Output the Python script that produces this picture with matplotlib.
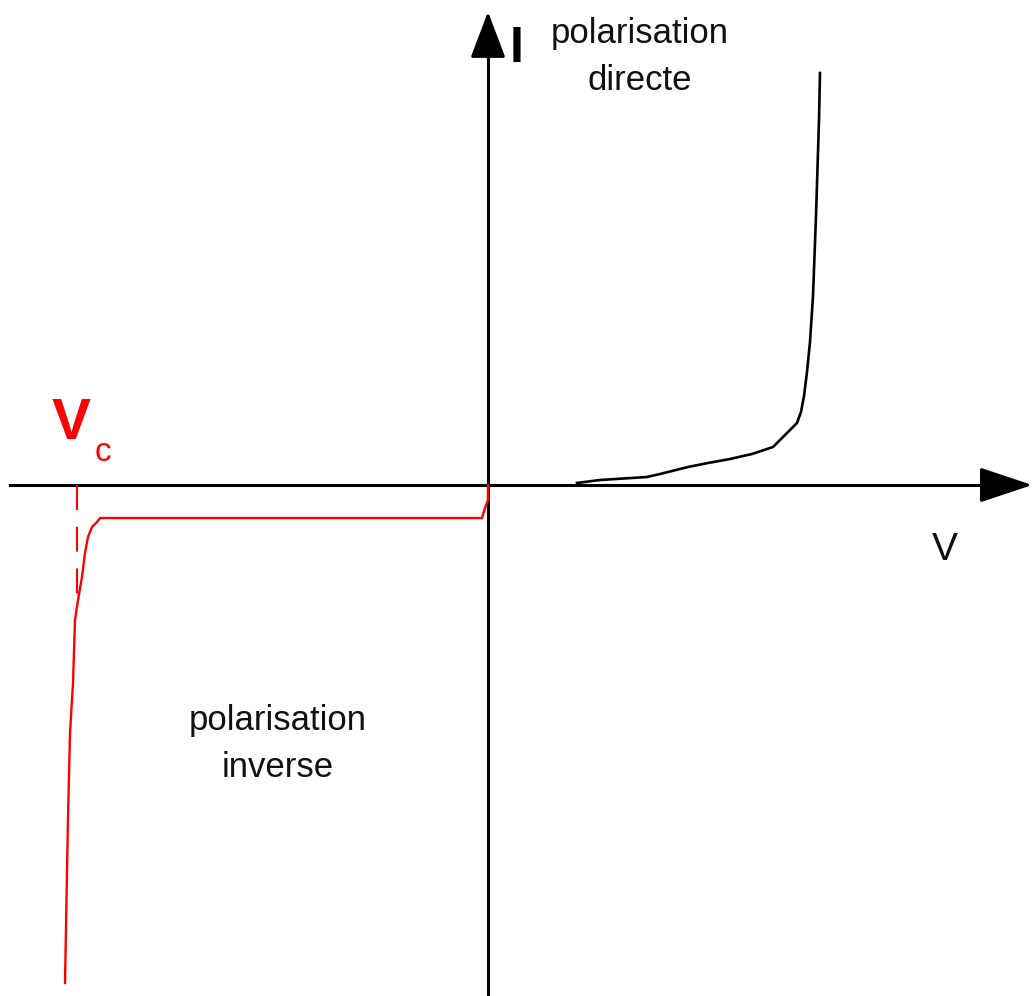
import matplotlib
matplotlib.use('Agg')
import matplotlib.pyplot as plt

plt.rcParams['font.family'] = ['Liberation Sans', 'DejaVu Sans']

# forward bias (black) - V, I in picture units, origin at the axes crossing
fwd_v = [89, 112, 159, 172, 200, 220, 242, 264, 285, 294, 309, 313, 316, 319, 322, 325, 328, 331, 332]
fwd_i = [2, 5, 8, 11, 18, 22, 26, 31, 38, 47, 62, 73, 89, 113, 143, 189, 269, 365, 412]

# reverse bias (red)
rev_v = [0, 0, -3, -6, -388, -391, -396, -400, -403, -406, -410, -413, -415, -418, -420, -423]
rev_i = [0, -15, -23, -33, -33, -37, -42, -52, -68, -92, -115, -135, -198, -248, -332, -498]

# breakdown voltage marker
vc = -411
vc_dash_end = -115

fig = plt.figure(figsize=(10.36, 9.96), dpi=100)
ax = fig.add_axes([0, 0, 1, 1])
ax.set_xlim(-488, 548)
ax.set_ylim(-511, 485)
ax.axis('off')

# axes with arrow heads
ax.plot([-478, 505], [0, 0], color='black', lw=2.2, zorder=1)
ax.plot([0, 0], [-511, 440], color='black', lw=2.2, zorder=1)
ax.annotate('', xy=(547, 0), xytext=(495, 0),
            arrowprops=dict(arrowstyle='-|>,head_length=3.3,head_width=1.1', color='black', lw=2.2))
ax.annotate('', xy=(0, 476), xytext=(0, 425),
            arrowprops=dict(arrowstyle='-|>,head_length=2.9,head_width=1.1', color='black', lw=2.2))

ax.plot(fwd_v, fwd_i, color='black', lw=1.9, zorder=3)
ax.plot(rev_v, rev_i, color='red', lw=1.7, zorder=3)
ax.plot([vc, vc], [0, vc_dash_end], color='red', lw=1.5, dashes=(12, 8), zorder=2)

ax.text(29, 436, 'I', fontsize=36, fontweight='bold', ha='center', va='center')
ax.text(152, 428, 'polarisation\ndirecte', fontsize=25, ha='center', va='center',
        linespacing=1.55, color='#111111')
ax.text(457, -65, 'V', fontsize=28, ha='center', va='center', color='#111111')
ax.text(-210, -259, 'polarisation\ninverse', fontsize=25, ha='center', va='center',
        linespacing=1.55, color='#111111')
ax.text(-417, 61, 'V', fontsize=42, fontweight='bold', ha='center', va='center', color='red')
ax.text(-385, 33, 'c', fontsize=24, ha='center', va='center', color='red')

fig.savefig('out.png', dpi=100, facecolor='white')
